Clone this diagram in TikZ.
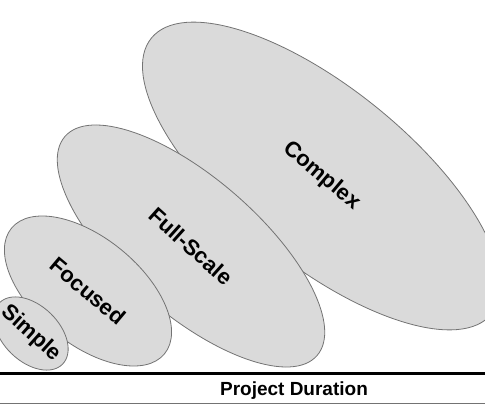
\documentclass[tikz,border=0pt]{standalone}
\usepackage{fontspec}
\setmainfont{Liberation Sans}
\usepackage{tikz}

\definecolor{fillgray}{RGB}{218,218,218}
\definecolor{edgegray}{RGB}{115,115,115}

\begin{document}
\begin{tikzpicture}[x=1pt,y=1pt,
        blob/.style={draw=edgegray,fill=fillgray,line width=0.8pt},
        lbl/.style={font=\bfseries\fontsize{22}{25}\selectfont,inner sep=0pt}]
        \useasboundingbox (0,0) rectangle (485,405);
        \clip (0,0) rectangle (485,405);

        \coordinate (p1) at (31,71.5);
        \coordinate (p2) at (88,114);
        \coordinate (p3) at (191,159);
        \coordinate (p4) at (321.5,229);

        \draw[blob,rotate around={-39:(p4)}] (p4) ellipse (219 and 88);
        \draw[blob,rotate around={-41:(p3)}] (p3) ellipse (167 and 68);
        \draw[blob,rotate around={-39.4:(p2)}] (p2) ellipse (99 and 53);
        \draw[blob,rotate around={-44:(p1)}] (p1) ellipse (44 and 28);

        \node[lbl,rotate=-40] (complex) at (p4) {Complex};
        \node[lbl,rotate=-42] (fullscale) at (p3) {Full-Scale};
        \node[lbl,rotate=-40] (focused) at (p2) {Focused};
        \node[lbl,rotate=-42] (simple) at (p1) {Simple};

        \coordinate (a0) at (0,32);
        \coordinate (a1) at (485,32);
        \coordinate (b0) at (0,1.5);
        \coordinate (b1) at (485,1.5);
        \draw[black,line width=3pt] (a0) -- (a1);
        \draw[edgegray,line width=1.5pt] (b0) -- (b1);

        \node[lbl,font=\bfseries\fontsize{19}{22}\selectfont,anchor=base] (duration) at (294,10) {Project Duration};
    \end{tikzpicture}
\end{document}
